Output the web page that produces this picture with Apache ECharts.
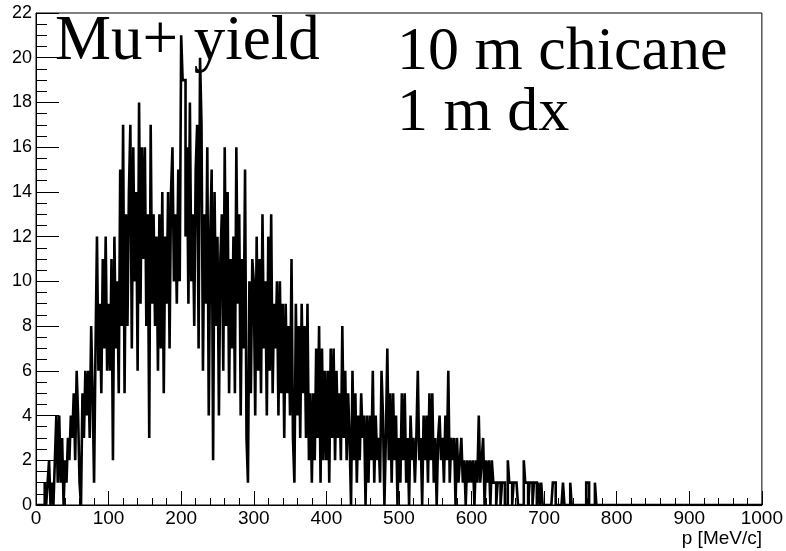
<html>
  <head>
    <meta charset="utf-8">
    <style>
      html, body { margin: 0; padding: 0; background: #fff; }
      #mu_yield { width: 786px; height: 551px; }
    </style>
  </head>
  <body>
    <div id="mu_yield"></div>
  </body>
  <script src="https://cdn.jsdelivr.net/npm/echarts@6.0.0/dist/echarts.min.js"></script>
  <script>

// histogram counts, 2 MeV/c bins, one array per 100 MeV/c
var bin_width = 2;
var counts_000 = [0,0,0,0,0,0,1,0,1,2, 0,1,0,2,4,1,4,1,3,0, 2,1,3,2,4,3,5,2,6,4, 1,0,5,3,6,4,6,3,8,5, 1,7,12,6,9,5,11,7,12,6];
var counts_100 = [9,6,11,2,12,7,10,5,15,8, 17,5,13,8,14,17,7,16,10,14, 6,18,9,16,11,16,8,13,3,17, 9,13,8,12,6,13,7,14,5,12, 9,14,7,14,16,10,13,9,15,10];
var counts_200 = [21,19,19,12,16,9,18,10,13,8, 15,17,7,20,17,6,13,9,16,4, 12,15,2,14,8,12,4,11,13,6, 16,8,14,5,11,7,12,5,16,9, 13,4,11,7,15,3,1,10,5,11];
var counts_300 = [10,4,12,6,11,5,13,7,10,4, 12,6,13,5,9,7,10,4,10,5, 9,3,9,5,8,4,11,3,1,9, 4,8,3,9,5,8,3,9,2,5, 1,5,2,7,3,8,1,7,2,6];
var counts_400 = [2,6,1,7,3,7,2,6,3,5, 2,8,3,6,2,5,3,0,6,2, 5,1,4,2,5,3,4,0,4,1, 4,2,6,1,4,2,3,1,6,4, 0,3,7,2,5,1,5,2,4,0];
var counts_500 = [3,1,5,2,5,1,3,0,4,2, 3,1,3,6,2,3,0,4,2,4, 1,5,2,5,1,3,0,3,4,2, 3,1,4,2,6,1,3,2,3,0, 3,1,2,3,1,2,0,2,1,2];
var counts_600 = [1,2,0,2,1,4,1,2,3,0, 2,1,2,0,2,1,1,0,1,1, 0,1,1,0,0,2,1,1,0,1, 1,1,0,0,0,0,2,1,1,0, 1,1,0,1,1,0,1,0,1,0];
var counts_700 = [0,0,0,0,0,0,1,1,0,0, 0,0,0,1,0,0,0,0,1,0, 0,0,0,0,0,0,0,0,0,1, 1,0,0,0,0,1,0,0,0,0, 0,0,0,0,0,0,0,0,0,0];

var x_min = 0, x_max = 1000;
var y_min = 0, y_max = 22;
var title_text = 'Mu+ yield';
var note_lines = ['10 m chicane', '1 m dx'];
var x_title = 'p [MeV/c]';

var counts = [].concat(counts_000, counts_100, counts_200, counts_300,
                       counts_400, counts_500, counts_600, counts_700);
var hist = [];
for (var i = 0; i < counts.length; i++) {
  hist.push([i * bin_width, counts[i]]);
}
hist.push([x_max, 0]);

var serif = '"Liberation Serif", "Times New Roman", serif';
var sans = '"Liberation Sans", Arial, Helvetica, sans-serif';

var option = {
  animation: false,
  backgroundColor: '#fff',
  grid: {
    left: 36, right: 24, top: 13, bottom: 46,
    show: true, borderColor: '#000', borderWidth: 1,
    backgroundColor: 'transparent'
  },
  xAxis: {
    type: 'value',
    min: x_min, max: x_max, interval: 100,
    axisLine: { lineStyle: { color: '#000', width: 1 } },
    axisTick: { inside: true, length: 14, lineStyle: { color: '#000' } },
    minorTick: { show: true, splitNumber: 5, length: 7, lineStyle: { color: '#000' } },
    splitLine: { show: false },
    axisLabel: { color: '#000', fontSize: 19, fontFamily: sans, margin: 4,
                 formatter: function (v) { return String(v); } }
  },
  yAxis: {
    type: 'value',
    min: y_min, max: y_max, interval: 2,
    axisLine: { lineStyle: { color: '#000', width: 1 } },
    axisTick: { inside: true, length: 23, lineStyle: { color: '#000' } },
    minorTick: { show: true, splitNumber: 4, length: 11, lineStyle: { color: '#000' } },
    splitLine: { show: false },
    axisLabel: { color: '#000', fontSize: 18, fontFamily: sans, margin: 4 }
  },
  graphic: [
    { type: 'text', left: 55, top: 11,
      style: { text: title_text, font: '63px ' + serif, fill: '#000' } },
    { type: 'text', left: 397, top: 22,
      style: { text: note_lines[0], font: '62px ' + serif, fill: '#000' } },
    { type: 'text', left: 397, top: 83,
      style: { text: note_lines[1], font: '62px ' + serif, fill: '#000' } },
    { type: 'text', right: 24, top: 529,
      style: { text: x_title, font: '19px ' + sans, fill: '#000' } }
  ],
  series: [
    {
      type: 'line',
      data: hist,
      step: 'end',
      showSymbol: false,
      symbol: 'none',
      sampling: null,
      lineStyle: { color: '#000', width: 2.6, join: 'miter', cap: 'butt' }
    }
  ]
};

var chart = echarts.init(document.getElementById('mu_yield'));
chart.setOption(option);

  </script>
</html>
